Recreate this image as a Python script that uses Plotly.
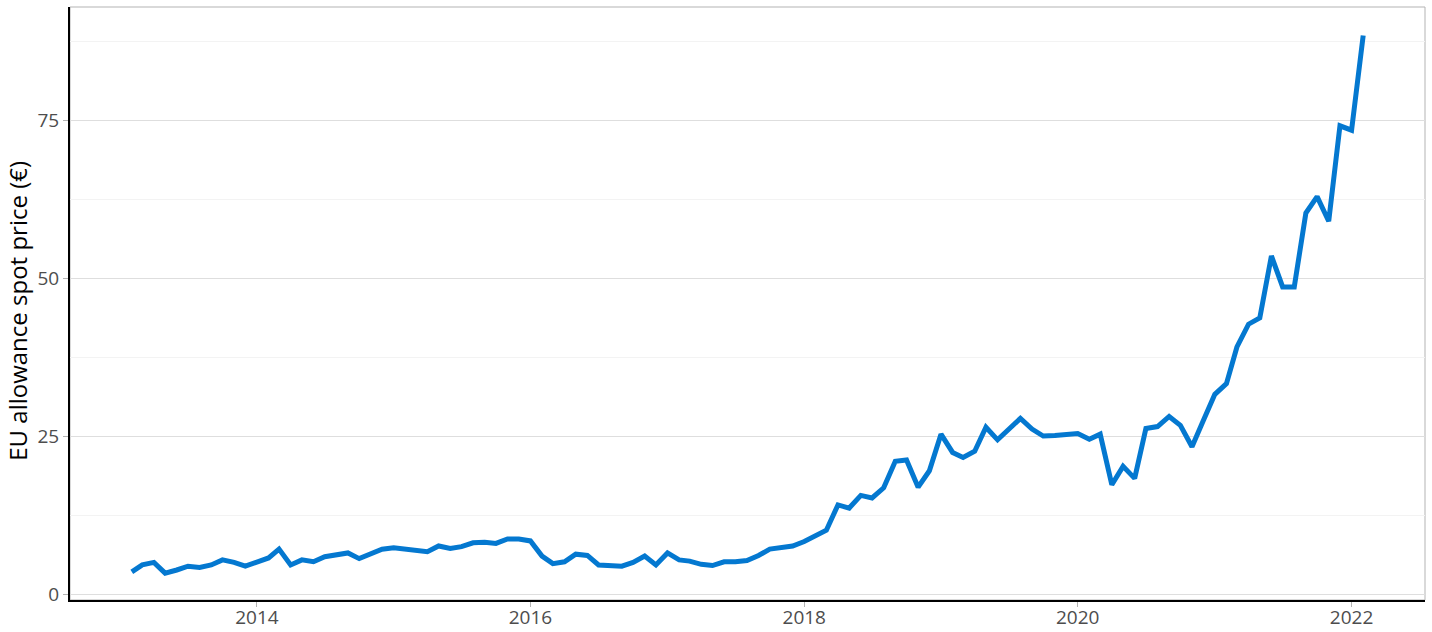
import pandas as pd
import plotly.graph_objects as go

# monthly EU ETS allowance spot price, Feb 2013 - Feb 2022
months = pd.date_range("2013-02-01", periods=109, freq="MS")
price = [
    3.5, 4.6, 5.0, 3.3, 3.8, 4.4, 4.2, 4.6, 5.4, 5.0, 4.4,
    5.0, 5.7, 7.1, 4.6, 5.4, 5.1, 5.9, 6.3, 6.5, 5.6, 6.3, 7.1, 7.3,
    7.1, 7.1, 6.7, 7.6, 7.2, 7.5, 8.1, 8.2, 8.0, 8.7, 8.7, 8.4,
    6.0, 4.8, 5.1, 6.3, 6.1, 4.6, 4.5, 4.4, 5.0, 6.0, 4.6, 6.5,
    5.4, 5.2, 4.7, 4.5, 5.1, 5.1, 5.3, 6.1, 7.1, 7.3, 7.6, 8.3,
    9.2, 10.1, 14.1, 13.6, 15.6, 15.2, 16.8, 21.0, 21.2, 16.9, 19.5, 25.3,
    22.4, 21.6, 22.6, 26.4, 24.4, 26.1, 27.8, 26.1, 25.0, 25.1, 25.2, 25.4,
    24.5, 25.3, 17.3, 20.2, 18.3, 26.2, 26.5, 28.1, 26.7, 23.3, 27.4, 31.6,
    33.3, 39.1, 42.7, 43.7, 53.5, 48.6, 48.6, 60.3, 62.9, 59.0, 74.1, 73.4,
    88.4,
]
year_ticks = ["2014-01-01", "2016-01-01", "2018-01-01", "2020-01-01", "2022-01-01"]
year_labels = ["2014", "2016", "2018", "2020", "2022"]
price_ticks = [0, 25, 50, 75]

fig = go.Figure()
fig.add_trace(go.Scatter(
    x=months,
    y=price,
    mode="lines",
    line=dict(color="#0478D0", width=5),
    name="EUA",
))

# grey panel border (ggplot style)
fig.add_shape(type="rect", xref="paper", yref="paper", x0=0, x1=1, y0=0, y1=1,
              line=dict(color="#b3b3b3", width=1), layer="below")

# y axis title as an annotation so it does not push the margins
fig.add_annotation(
    text="EU allowance spot price (€)",
    xref="paper", yref="paper", x=-0.039, y=0.488,
    xanchor="center", yanchor="middle", textangle=-90, showarrow=False,
    font=dict(size=24, color="black"),
)

fig.update_layout(
    width=1432,
    height=632,
    margin=dict(l=70, r=7, t=7, b=32),
    paper_bgcolor="white",
    plot_bgcolor="white",
    showlegend=False,
    font=dict(family="Open Sans", color="#4d4d4d"),
    xaxis=dict(
        range=["2012-08-20", "2022-07-16"],
        tickvals=year_ticks,
        ticktext=year_labels,
        showgrid=False,
        zeroline=False,
        showline=True,
        linecolor="black",
        linewidth=2,
        ticks="outside",
        ticklen=5,
        tickcolor="#b3b3b3",
        tickfont=dict(size=19, color="#4d4d4d"),
        ticklabelstandoff=-6,
        automargin=False,
    ),
    yaxis=dict(
        range=[-0.95, 92.9],
        tickvals=price_ticks,
        showgrid=True,
        gridcolor="#dedede",
        gridwidth=1,
        minor=dict(tick0=0, dtick=12.5, showgrid=True, gridcolor="#f3f3f3", gridwidth=1),
        zeroline=False,
        showline=True,
        linecolor="black",
        linewidth=2,
        ticks="outside",
        ticklen=5,
        tickcolor="#b3b3b3",
        tickfont=dict(size=19, color="#4d4d4d"),
        automargin=False,
    ),
)

# page has a default 8px body margin; drop it so the figure fills the window
fig.write_html("out.html", config={"displayModeBar": False},
               post_script="document.body.style.margin='0';")
